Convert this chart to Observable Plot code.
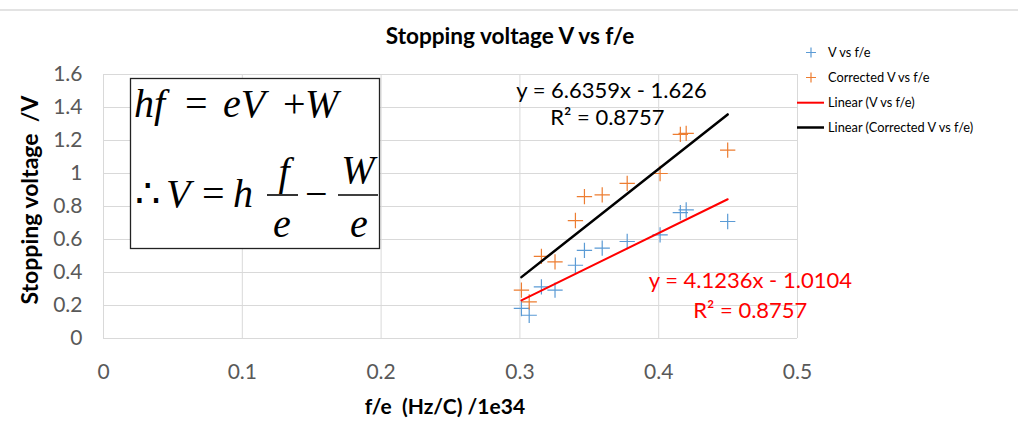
<!DOCTYPE html>
<html>
<head>
<meta charset="utf-8">
<script src="https://cdn.jsdelivr.net/npm/d3@7"></script>
<script src="https://cdn.jsdelivr.net/npm/@observablehq/plot@0.6"></script>
<style>
  body { margin: 0; background: #fff; }
  #wrap { position: relative; width: 1018px; height: 435px; overflow: hidden; font-family: Lato, "Open Sans", sans-serif; }
  #wrap > svg { position: absolute; left: 0; top: 0; }
  #topline { position: absolute; left: 0; top: 9px; width: 1018px; height: 2px; background: #e3e3e3; }
  .pre { white-space: pre; }
</style>
</head>
<body>
<div id="wrap"><div id="topline"></div></div>
<script>
// ---- data ----
const fe = [0.3011, 0.3067, 0.3155, 0.3253, 0.3400, 0.3465, 0.3593, 0.3773, 0.4010, 0.4156, 0.4198, 0.4497];
const V  = [0.182, 0.141, 0.313, 0.293, 0.444, 0.534, 0.548, 0.588, 0.628, 0.763, 0.779, 0.709];
const Vc = [0.293, 0.222, 0.498, 0.464, 0.715, 0.860, 0.870, 0.940, 1.000, 1.237, 1.243, 1.142];
const seriesNames = ["V vs f/e", "Corrected V vs f/e"];
const fitNames = ["Linear (V vs f/e)", "Linear (Corrected V vs f/e)"];
const fitSlope = [4.1236, 6.6359];
const fitIntercept = [-1.0104, -1.626];
const fitR2 = [0.8757, 0.8757];
const xTicks = [0, 0.1, 0.2, 0.3, 0.4, 0.5];
const yTicks = [0, 0.2, 0.4, 0.6, 0.8, 1, 1.2, 1.4, 1.6];
const titleText = "Stopping voltage V vs f/e";
const xLabel = "f/e  (Hz/C) /1e34";
const yLabel = "Stopping voltage  /V";

// ---- derived tables ----
const colors = ["#5b9bd5", "#ed7d31"];
const fitColors = ["#ff0000", "#000000"];
const ptsV = fe.map((x, i) => ({x, y: V[i]}));
const ptsVc = fe.map((x, i) => ({x, y: Vc[i]}));
const [xmin, xmax] = d3.extent(fe);
const fits = fitSlope.map((m, k) => [xmin, xmax].map(x => ({x, y: m * x + fitIntercept[k]})));
const fmtEq = k => `y = ${fitSlope[k]}x ${fitIntercept[k] < 0 ? "-" : "+"} ${Math.abs(fitIntercept[k])}`;
const fmtR2 = k => `R² = ${fitR2[k]}`;

const labelPos = [
  {eq: [0.466, 0.348], r2: [0.466, 0.166]},
  {eq: [0.366, 1.502], r2: [0.363, 1.339]}
];
const labels = [];
[0, 1].forEach(k => {
  labels.push({x: labelPos[k].eq[0], y: labelPos[k].eq[1], text: fmtEq(k), c: fitColors[k]});
  labels.push({x: labelPos[k].r2[0], y: labelPos[k].r2[1], text: fmtR2(k), c: fitColors[k]});
});

const chart = Plot.plot({
  width: 1018, height: 435,
  marginLeft: 103, marginRight: 221, marginTop: 74, marginBottom: 97,
  style: {fontFamily: "Lato, 'Open Sans', sans-serif", background: "transparent", overflow: "visible"},
  x: {domain: [0, 0.5]},
  y: {domain: [0, 1.6]},
  marks: [
    Plot.gridX(xTicks, {stroke: "#d9d9d9", strokeOpacity: 1}),
    Plot.gridY(yTicks, {stroke: "#d9d9d9", strokeOpacity: 1}),
    Plot.axisX(xTicks, {tickSize: 0, tickPadding: 26, fontSize: 21, color: "#595959", label: null, tickFormat: d => String(d)}),
    Plot.axisY(yTicks, {tickSize: 0, tickPadding: 21, fontSize: 21, color: "#595959", label: null, tickFormat: d => String(d)}),
    Plot.dot(ptsV, {x: "x", y: "y", symbol: "plus", r: 5, stroke: colors[0], strokeWidth: 1.2}),
    Plot.dot(ptsVc, {x: "x", y: "y", symbol: "plus", r: 5, stroke: colors[1], strokeWidth: 1.2}),
    Plot.line(fits[0], {x: "x", y: "y", stroke: fitColors[0], strokeWidth: 2}),
    Plot.line(fits[1], {x: "x", y: "y", stroke: fitColors[1], strokeWidth: 2.5}),
    Plot.text(labels, {x: "x", y: "y", text: "text", fill: "c", fontSize: 22})
  ]
});
document.getElementById("wrap").appendChild(chart);

// ---- overlay: title, axis titles, legend, equation box ----
const ov = d3.select("#wrap").append("svg")
  .attr("width", 1018).attr("height", 435)
  .style("font-family", "Lato, 'Open Sans', sans-serif");

ov.append("text").attr("x", 510).attr("y", 44).attr("text-anchor", "middle")
  .attr("font-weight", "bold").attr("font-size", 22.6).attr("fill", "#000").text(titleText);
ov.append("text").attr("class", "pre").attr("xml:space", "preserve").attr("x", 445).attr("y", 414).attr("text-anchor", "middle")
  .attr("font-weight", "bold").attr("font-size", 21).attr("fill", "#000").text(xLabel);
ov.append("text").attr("class", "pre").attr("xml:space", "preserve").attr("transform", "translate(38,200) rotate(-90)").attr("text-anchor", "middle")
  .attr("font-weight", "bold").attr("font-size", 23).attr("fill", "#000").text(yLabel);

// legend
const lg = ov.append("g").attr("font-size", 12.8).attr("fill", "#000");
const legendItems = [
  {name: seriesNames[0], kind: "plus", c: colors[0]},
  {name: seriesNames[1], kind: "plus", c: colors[1]},
  {name: fitNames[0], kind: "line", c: fitColors[0]},
  {name: fitNames[1], kind: "line", c: fitColors[1]}
];
const rowY = [52.5, 77.5, 102.7, 127.5];
legendItems.forEach((d, i) => {
  const y = rowY[i];
  if (d.kind === "plus") {
    lg.append("path").attr("d", `M806,${y}H816M811,${y - 5}V${y + 5}`).attr("stroke", d.c).attr("stroke-width", 1.2);
  } else {
    lg.append("line").attr("x1", 797).attr("x2", 824).attr("y1", y).attr("y2", y)
      .attr("stroke", d.c).attr("stroke-width", i === 3 ? 2.5 : 2);
  }
  lg.append("text").attr("x", 828).attr("y", y + 4.5).text(d.name);
});

// equation box
const eqg = ov.append("g").attr("font-family", "'Liberation Serif', 'Times New Roman', serif").attr("font-size", 40).attr("fill", "#000");
eqg.append("rect").attr("x", 130.5).attr("y", 78.5).attr("width", 249).attr("height", 170)
  .attr("fill", "#fff").attr("stroke", "#222").attr("stroke-width", 1.3);
const put = (x, y, t, italic, anchor) => eqg.append("text").attr("x", x).attr("y", y)
  .attr("font-style", italic ? "italic" : "normal").attr("text-anchor", anchor || "start").text(t);
put(134, 117, "hf", true);
put(185, 117, "=", false);
put(223, 117, "eV", true);
put(283, 117, "+", false);
put(305, 117, "W", true);
put(135, 207, "∴", false);
put(166, 207, "V", true);
put(202, 207, "=", false);
put(233, 207, "h", true);
put(284, 185, "f", true, "middle");
put(282, 237, "e", true, "middle");
eqg.append("line").attr("x1", 267).attr("x2", 298).attr("y1", 195).attr("y2", 195).attr("stroke", "#000").attr("stroke-width", 1.6);
put(305, 207, "−", false);
put(358, 183, "W", true, "middle");
put(359, 237, "e", true, "middle");
eqg.append("line").attr("x1", 338).attr("x2", 378).attr("y1", 195).attr("y2", 195).attr("stroke", "#000").attr("stroke-width", 1.6);
</script>
</body>
</html>
